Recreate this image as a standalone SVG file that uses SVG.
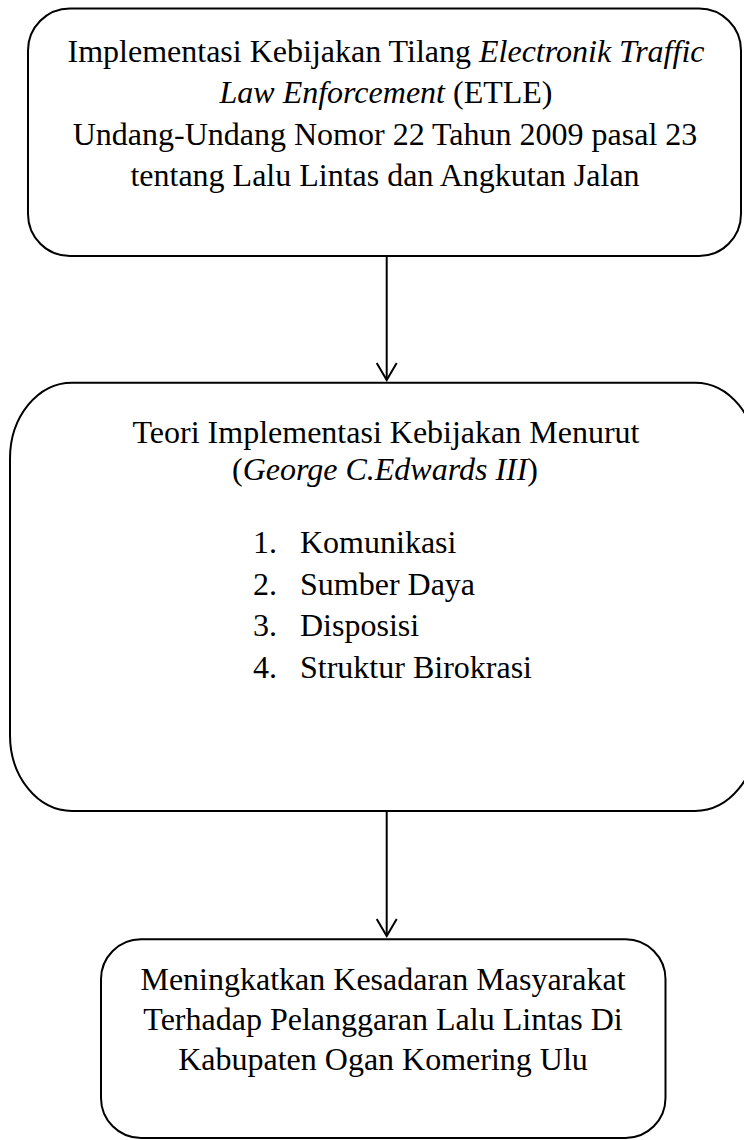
<svg xmlns="http://www.w3.org/2000/svg" width="744" height="1140" viewBox="0 0 744 1140">
  <style>
    .box { fill: #ffffff; stroke: #000000; stroke-width: 2; }
    .conn { fill: none; stroke: #000000; stroke-width: 2; }
    text { font-family: "Liberation Serif", "Times New Roman", serif; font-size: 32px; fill: #000000; }
    .c { text-anchor: middle; }
    .i { font-style: italic; }
  </style>
  <defs>
    <marker id="arrow" markerUnits="userSpaceOnUse" viewBox="-20 -12 24 24" refX="0" refY="0" markerWidth="24" markerHeight="24" orient="auto">
      <path d="M-17,-10 L0,0 L-17,10" fill="none" stroke="#000000" stroke-width="2"/>
    </marker>
  </defs>
  <rect width="744" height="1140" fill="#ffffff"/>

  <g id="connectors">
    <line class="conn" x1="386.7" y1="256" x2="386.7" y2="380" marker-end="url(#arrow)"/>
    <line class="conn" x1="386.7" y1="811" x2="386.7" y2="936" marker-end="url(#arrow)"/>
  </g>

  <g id="node-etle">
    <rect class="box" x="28" y="8.5" width="713" height="247.5" rx="42" ry="42"/>
    <text class="c" x="386" y="62">Implementasi Kebijakan Tilang <tspan class="i">Electronik Traffic</tspan></text>
    <text class="c" x="386" y="103"><tspan class="i">Law Enforcement</tspan> (ETLE)</text>
    <text class="c" x="385" y="145">Undang-Undang Nomor 22 Tahun 2009 pasal 23</text>
    <text class="c" x="385" y="186">tentang Lalu Lintas dan Angkutan Jalan</text>
  </g>

  <g id="node-teori">
    <rect class="box" x="10" y="382.7" width="747" height="428.3" rx="62" ry="76"/>
    <text class="c" x="386" y="443">Teori Implementasi Kebijakan Menurut</text>
    <text class="c" x="385" y="480">(<tspan class="i">George C.Edwards III</tspan>)</text>
    <text x="253" y="553">1.</text>
    <text x="300" y="553">Komunikasi</text>
    <text x="253" y="594.5">2.</text>
    <text x="300" y="594.5">Sumber Daya</text>
    <text x="253" y="636">3.</text>
    <text x="300" y="636">Disposisi</text>
    <text x="253" y="677.5">4.</text>
    <text x="300" y="677.5">Struktur Birokrasi</text>
  </g>

  <g id="node-hasil">
    <rect class="box" x="101" y="939.3" width="564.5" height="198.7" rx="40" ry="40"/>
    <text class="c" x="383" y="990">Meningkatkan Kesadaran Masyarakat</text>
    <text class="c" x="383" y="1030">Terhadap Pelanggaran Lalu Lintas Di</text>
    <text class="c" x="383" y="1070">Kabupaten Ogan Komering Ulu</text>
  </g>
</svg>
